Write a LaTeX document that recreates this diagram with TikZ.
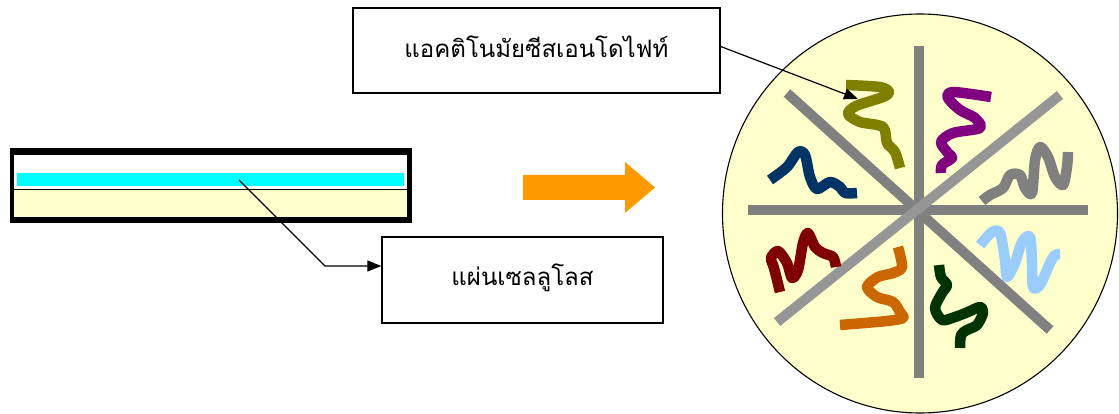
\documentclass[tikz,border=0pt]{standalone}
\usepackage{fontspec}
\newfontfamily\thaifont[Script=Thai]{Loma}
\usetikzlibrary{arrows.meta}
\definecolor{cream}{HTML}{FFFFCC}
\definecolor{coating}{RGB}{0,255,255}
\definecolor{spoke}{HTML}{808080}
\definecolor{spokelight}{HTML}{969696}
\definecolor{arroworange}{HTML}{FF9900}
\tikzset{
  labelbox/.style={draw=black, line width=1.4pt, fill=white, inner sep=0pt,
    font=\thaifont\fontsize{24}{28}\selectfont},
  pointer/.style={draw=black, line width=1.2pt, -{Triangle[length=14pt,width=11pt]}},
  spokeline/.style={line width=10pt, line cap=butt},
  worm/.style={line width=10.5pt, line cap=butt, line join=round},
}
\begin{document}
\begin{tikzpicture}[x=1pt, y=-1pt]
\useasboundingbox (0,0) rectangle (1119,414);

% cellulose sheet: black frame, cellulose layer, cyan coating
\fill[black] (10,148) rectangle (412,223);
\fill[white] (14,155) rectangle (407,217.5);
\fill[cream] (14,190.5) rectangle (407,217.5);
\draw[black, line width=1.6pt] (14,189.5) -- (407,189.5);
\fill[coating] (17,173) rectangle (404,186.5);

% process arrow
\fill[arroworange] (523,175) -- (625,175) -- (625,162) -- (655,187.5)
  -- (625,213) -- (625,200) -- (523,200) -- cycle;

% label boxes
\node[labelbox, minimum width=367pt, minimum height=85pt] (endo) at (536.5,50.5)
  {\raisebox{7pt}{แอคติโนมัยซีสเอนโดไฟท์}};
\node[labelbox, minimum width=281pt, minimum height=86pt] (sheet) at (522.5,280)
  {\raisebox{10pt}{แผ่นเซลลูโลส}};

% culture plate
\draw[fill=cream, line width=1.1pt] (920,213.5) ellipse [x radius=197.5pt, y radius=199.5pt];

% grey spokes
\draw[spoke, spokeline] (919,46) -- (919,378);
\draw[spoke, spokeline] (748,210) -- (1088,210);
\draw[spoke, spokeline] (787,93) -- (1050,330);
\draw[spokelight, spokeline] (777,322) -- (1060,95);

% actinomycete colonies
\draw[worm, color={rgb,255:red,128;green,128;blue,0}] plot[smooth, tension=0.5] coordinates
  {(846,85) (880,87) (889,92) (883,97) (856,106) (848,114) (860,122) (883,127) (887,143) (895,152) (900,168)};
\draw[worm, color={rgb,255:red,128;green,0;blue,128}] plot[smooth, tension=0.5] coordinates
  {(991,97) (953,92) (948,98) (960,110) (975,118) (980,128) (953,133) (941,142) (948,153) (952,158) (942,165) (941,173)};
\draw[worm, color=spoke] plot[smooth, tension=0.5] coordinates
  {(982,201) (990,195) (1003,188) (1010,175) (1020,175) (1025,188) (1032,193) (1035,160) (1040,147) (1048,157) (1055,177) (1063,185) (1067,167) (1068,152)};
\draw[worm, color={rgb,255:red,0;green,51;blue,102}] plot[smooth, tension=0.5] coordinates
  {(770,180) (787,167) (798,152) (805,155) (810,177) (817,189) (830,182) (840,187) (845,193) (857,193)};
\draw[worm, color={rgb,255:red,153;green,204;blue,255}] plot[smooth, tension=0.5] coordinates
  {(980,245) (992,232) (1000,233) (1005,260) (1007,277) (1015,263) (1022,242) (1030,237) (1032,263) (1033,287) (1040,285) (1050,263) (1055,255) (1060,254)};
\draw[worm, color={rgb,255:red,128;green,0;blue,0}] plot[smooth, tension=0.5] coordinates
  {(780,292) (774,268) (771,258) (778,251) (787,263) (792,278) (798,270) (803,243) (808,233) (815,247) (823,253) (833,257) (836,267)};
\draw[worm, color={rgb,255:red,204;green,102;blue,0}] plot[smooth, tension=0.5] coordinates
  {(898,247) (902,267) (893,273) (878,277) (867,287) (877,297) (893,302) (900,312) (903,318) (887,321) (840,325)};
\draw[worm, color={rgb,255:red,0;green,51;blue,0}] plot[smooth, tension=0.5] coordinates
  {(939,265) (941,277) (947,285) (942,293) (935,308) (942,320) (955,317) (968,312) (980,307) (983,313) (977,325) (967,330) (961,335) (960,348)};

% connectors
\coordinate (colony) at (858,99);
\coordinate (coat) at (239,180);
\coordinate (bend) at (325,266);
\draw[pointer] ([yshift=4pt]endo.east) -- (colony);
\draw[pointer] (coat) -- (bend) -- (bend -| sheet.west);
\end{tikzpicture}
\end{document}
